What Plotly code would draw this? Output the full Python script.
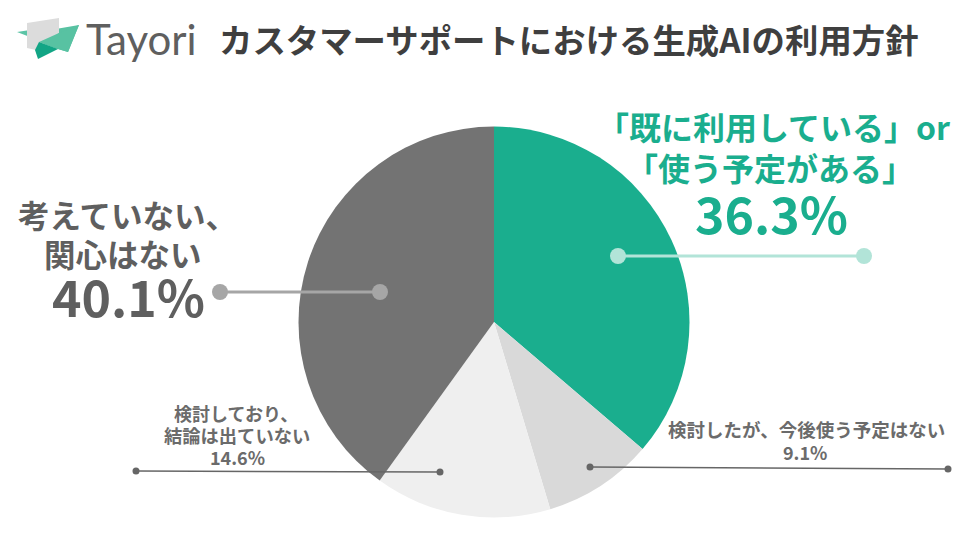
import plotly.graph_objects as go

labels = ["既に利用している / 使う予定がある", "検討したが、今後使う予定はない", "検討しており、結論は出ていない", "考えていない、関心はない"]
values = [36.3, 9.1, 14.6, 40.1]
colors = ["#1aae8e", "#d9d9d9", "#efefef", "#737373"]

W, H = 960, 540
CX, CY, R = 494, 322, 195.5


def px(x):
    return x / W


def py(y):
    return 1 - y / H


def poly(points, color):
    path = "M " + " L ".join(f"{px(x)},{py(y)}" for x, y in points) + " Z"
    return dict(type="path", xref="paper", yref="paper", path=path, fillcolor=color, line_width=0, layer="above")


def leader(x0, y0, x1, y1, color, width, r):
    items = [dict(type="line", xref="paper", yref="paper", x0=px(x0), y0=py(y0), x1=px(x1), y1=py(y1),
                  line=dict(color=color, width=width), layer="above")]
    for x, y in [(x0, y0), (x1, y1)]:
        items.append(dict(type="circle", xref="paper", yref="paper", x0=px(x - r), x1=px(x + r),
                          y0=py(y + r), y1=py(y - r), fillcolor=color, line_width=0, layer="above"))
    return items


def text(x, y, s, size, color, family="Noto Sans CJK JP", weight=700):
    return dict(xref="paper", yref="paper", x=px(x), y=py(y), text=s, showarrow=False, xanchor="center",
                yanchor="middle", font=dict(family=family, size=size, color=color, weight=weight))


fig = go.Figure()
fig.add_trace(go.Pie(labels=labels, values=values, sort=False, direction="clockwise", rotation=0,
                     marker=dict(colors=colors, line_width=0), textinfo="none", hoverinfo="label+percent",
                     domain=dict(x=[px(CX - R), px(CX + R)], y=[py(CY + R), py(CY - R)])))

shapes = []
shapes += leader(618, 256, 864, 256, "#b2e4d8", 3, 8)
shapes += leader(220, 292, 380, 292, "#a6a6a6", 3, 8)
shapes += leader(136, 471, 440, 472, "#666666", 1.5, 3.5)
shapes += leader(590, 467, 948, 469, "#666666", 1.5, 3.5)

# logo
shapes += [
    poly([(17, 32), (30, 30), (30, 37)], "#5cc4a6"),
    poly([(50, 30), (79, 25), (68, 52), (58, 49), (39, 42)], "#58c2a2"),
    poly([(27, 23), (59, 18), (59, 33), (36, 50), (27, 48)], "#dcdcdc"),
    poly([(39, 42), (59, 33), (79, 25), (68, 52), (58, 49)], "#58c2a2"),
    poly([(35, 50), (39, 42), (58, 49), (38, 59)], "#12a585"),
]

annotations = [
    text(141, 39, "Tayori", 42, "#5f5f5f", "Lato", 400),
    text(569, 38, "カスタマーサポートにおける生成AIの利用方針", 33.4, "#3f3f3f"),
    text(773, 126, "「既に利用している」or", 32, "#1aae8e"),
    text(770, 167, "「使う予定がある」", 32, "#1aae8e"),
    text(771, 212, "36.3%", 50, "#1aae8e"),
    text(127, 214, "考えていない、", 31.5, "#5f5f5f"),
    text(123, 253, "関心はない", 31.5, "#5f5f5f"),
    text(128, 295, "40.1%", 50, "#5f5f5f"),
    text(236, 413, "検討しており、", 18, "#6b6b6b"),
    text(237, 435, "結論は出ていない", 18.3, "#6b6b6b"),
    text(237, 457, "14.6%", 18, "#6b6b6b"),
    text(806, 429, "検討したが、今後使う予定はない", 18.5, "#6b6b6b"),
    text(805, 452, "9.1%", 18, "#6b6b6b"),
]

fig.update_layout(width=W, height=H, margin=dict(l=0, r=0, t=0, b=0), showlegend=False,
                  paper_bgcolor="white", plot_bgcolor="white", shapes=shapes, annotations=annotations)
fig.write_html("out.html", config=dict(displayModeBar=False), post_script="document.body.style.margin='0';")
